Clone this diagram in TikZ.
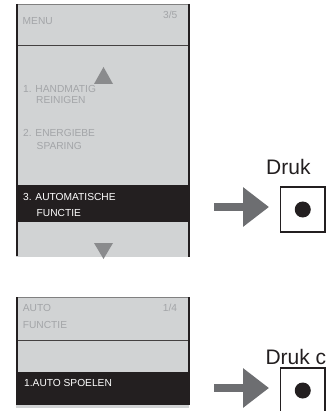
\documentclass[tikz,border=0pt]{standalone}
\usepackage{fontspec}
\setmainfont{Liberation Sans}
\usetikzlibrary{arrows.meta}
\definecolor{panelfill}{HTML}{D1D3D4}
\definecolor{menutext}{HTML}{A3A5A8}
\definecolor{darkband}{HTML}{231F20}
\definecolor{trigray}{HTML}{8A8B8D}
\definecolor{arrowgray}{HTML}{6D6E71}
\definecolor{topline}{HTML}{808080}
\tikzset{
  mtext/.style={anchor=base west, inner sep=0pt, text=menutext, font=\fontsize{10.2}{12}\selectfont},
  wtext/.style={mtext, text=white},
  border/.style={draw=darkband, line width=2pt},
  divider/.style={draw=darkband!85, line width=1pt},
  topedge/.style={draw=topline, line width=0.8pt},
  btn/.style={draw=darkband, line width=1.2pt, fill=white, minimum width=44.5pt, minimum height=45pt, inner sep=0pt},
  druk/.style={anchor=base west, inner sep=0pt, text=darkband, font=\fontsize{21}{24}\selectfont},
  bigarrow/.style={draw=arrowgray, line width=8pt, -{Triangle[length=26pt,width=38pt,fill=arrowgray]}},
  tri/.style={fill=trigray}
}
\begin{document}
\begin{tikzpicture}[x=1pt,y=-1pt]
\useasboundingbox (0,0) rectangle (326,411);
\clip (0,0) rectangle (326,411);
% ---------- Panel 1 ----------
\fill[panelfill] (16,4) rectangle (188.5,257);
\fill[darkband] (16,185) rectangle (188.5,222);
\draw[topedge] (16,4.4) -- (188.5,4.4);
\draw[divider] (16,45.5) -- (188.5,45.5);
\draw[border, line width=2.4pt] (17.2,4) -- (17.2,256);
\draw[border] (188.5,4) -- (188.5,257);
\fill[tri] (103.5,67) -- (113,84) -- (94,84) -- cycle;
\fill[tri] (94,243) -- (113,243) -- (103.5,259) -- cycle;
\node[mtext] (menu) at (22.5,25) {MENU};
\node[mtext] (p1) at (163,18.5) {3/5};
\node[mtext] (h1) at (23,92.5) {1. HANDMATIG};
\node[mtext] (h2) at (36,103.5) {REINIGEN};
\node[mtext] (e1) at (23,137) {2. ENERGIEBE};
\node[mtext] (e2) at (36.5,149.3) {SPARING};
\node[wtext] (a1) at (23,200.7) {3. AUTOMATISCHE};
\node[wtext] (a2) at (36.5,216) {FUNCTIE};
% ---------- Panel 2 ----------
\fill[panelfill] (16,297) rectangle (188.5,408);
\fill[darkband] (16,372) rectangle (188.5,405);
\draw[topedge] (16,297.4) -- (188.5,297.4);
\draw[divider] (16,340.5) -- (188.5,340.5);
\draw[border, line width=1.6pt] (16.8,297) -- (16.8,405);
\draw[border] (188.5,297) -- (188.5,405);
\node[mtext] (auto) at (22.7,311.7) {AUTO};
\node[mtext] (func) at (22.7,328.3) {FUNCTIE};
\node[mtext] (p2) at (162.7,311.7) {1/4};
\node[wtext] (sp) at (24,386) {1.AUTO SPOELEN};
% ---------- Buttons and arrows ----------
\node[btn] (b1) at (302.75,209.5) {};
\fill[darkband] (b1.center) circle (8pt);
\node[druk] (d1) at (266,175) {Druk};
\coordinate (s1) at (214,207);
\coordinate (t1) at (269,207);
\draw[bigarrow] (s1) -- (t1);
\node[btn] (b2) at (302.75,390.5) {};
\fill[darkband] (b2.center) circle (8pt);
\node[druk] (d2) at (265.3,364) {Druk c};
\coordinate (s2) at (214,388);
\coordinate (t2) at (269,388);
\draw[bigarrow] (s2) -- (t2);
\end{tikzpicture}
\end{document}
